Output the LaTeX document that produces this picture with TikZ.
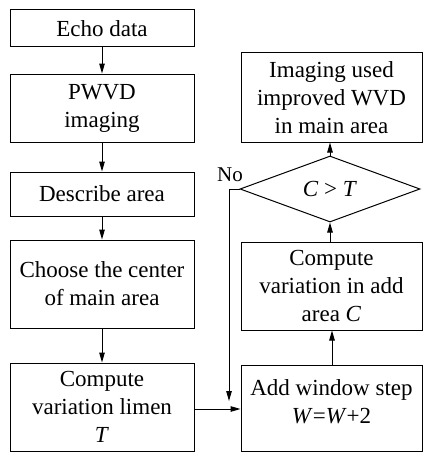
\documentclass[tikz,border=0pt]{standalone}
\usepackage{fontspec}
\setmainfont{Liberation Serif}
\usetikzlibrary{shapes.geometric,arrows.meta}
\begin{document}
\begin{tikzpicture}[x=1pt,y=-1pt,
  box/.style={draw,line width=1pt,align=center,inner sep=0pt,
    font=\fontsize{23}{28}\selectfont},
  lbox/.style={box,minimum width=184pt},
  rbox/.style={box,minimum width=181pt},
  decision/.style={draw,line width=1pt,shape=diamond,aspect=2.73,inner sep=0pt,
    minimum width=180pt,minimum height=66pt,font=\fontsize{23}{28}\selectfont},
  flow/.style={draw,line width=1pt,-{Triangle[length=10pt,width=5.5pt]}},
  line/.style={draw,line width=1pt}
]
\useasboundingbox (0,0) rectangle (423,452);

% left column
\node[lbox,minimum height=37pt] (echo) at (102,28.5) {Echo data};
\node[lbox,minimum height=68pt] (pwvd) at (102,108) {PWVD\\imaging};
\node[lbox,minimum height=44pt] (desc) at (102,194) {Describe area};
\node[lbox,minimum height=88pt] (choose) at (102,284) {Choose the center\\of main area};
\node[lbox,minimum height=88pt] (limen) at (102,407) {Compute\\variation limen\\\textit{T}};

% right column
\node[rbox,minimum height=89pt] (img) at (331.5,97.5) {Imaging used\\improved WVD\\in main area};
\node[decision] (dec) at (330,189) {\textit{C} > \textit{T}};
\node[rbox,minimum height=88pt] (addc) at (331.5,286) {Compute\\variation in add\\area \textit{C}};
\node[rbox,minimum height=86pt] (addw) at (331.5,408) {};
\node[font=\fontsize{23}{28}\selectfont,align=center,inner sep=0pt] (addwtext) at (331.5,402) {Add window step\\\textit{W}=\textit{W}+2};

\node[font=\fontsize{21}{25}\selectfont,inner sep=0pt] (nolabel) at (230,175) {No};

% connectors
\draw[flow] (echo) -- (pwvd);
\draw[flow] (pwvd) -- (desc);
\draw[flow] (desc) -- (choose);
\draw[flow] (choose) -- (limen);
\draw[flow] (limen.east |- 0,409) -- (addw.west |- 0,409);
\draw[flow] (addw.north -| 332,0) -- (addc.south -| 332,0);
\draw[flow] (addc.north -| 330,0) -- (dec.south);
\draw[flow] (dec.north) -- (img.south -| dec.north);
\coordinate (nocorner) at (229,189);
\coordinate (noend) at (229,401);
\draw[flow] (dec.west) -- (nocorner) -- (noend);
\end{tikzpicture}
\end{document}
